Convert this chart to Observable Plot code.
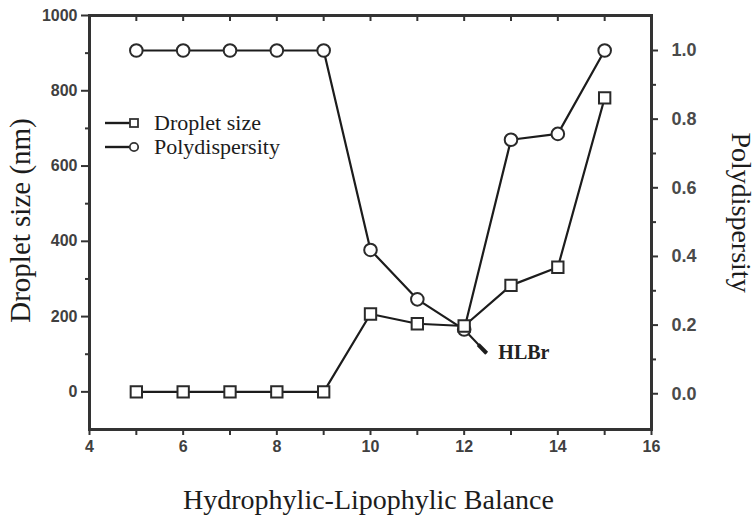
<!DOCTYPE html>
<html>
<head>
<meta charset="utf-8">
<script src="https://cdn.jsdelivr.net/npm/d3@7"></script>
<script src="https://cdn.jsdelivr.net/npm/@observablehq/plot@0.6"></script>
<style>
  html, body { margin: 0; padding: 0; background: #fff; }
</style>
</head>
<body>
<div id="chart"></div>
<script>
// ---- data ----
const hlb = [5, 6, 7, 8, 9, 10, 11, 12, 13, 14, 15];
const dropletSize = [0, 0, 0, 0, 0, 207, 181, 175, 283, 331, 781];
const polydispersity = [1.0, 1.0, 1.0, 1.0, 1.0, 0.419, 0.275, 0.187, 0.740, 0.757, 1.0];
const xTicks = [4, 5, 6, 7, 8, 9, 10, 11, 12, 13, 14, 15, 16];
const leftMajorTicks = [0, 200, 400, 600, 800, 1000];
const leftMinorTicks = [100, 300, 500, 700, 900];
const rightMajorTicks = [0.0, 0.2, 0.4, 0.6, 0.8, 1.0];
const rightMinorTicks = [0.1, 0.3, 0.5, 0.7, 0.9];
const legendLabels = ["Droplet size", "Polydispersity"];
const legendSymbols = ["square", "circle"];
const annotationText = "HLBr";
const annotationPoint = {x: 12, value: 0.187};
const xTitle = "Hydrophylic-Lipophylic Balance";
const yLeftTitle = "Droplet size (nm)";
const yRightTitle = "Polydispersity";

// right axis (polydispersity) mapped onto the left scale
const toLeft = p => -5 + 912 * p;

const dropRows = hlb.map((x, i) => ({x, y: dropletSize[i]}));
const polyRows = hlb.map((x, i) => ({x, y: toLeft(polydispersity[i])}));

const M = {left: 89, right: 105, top: 15, bottom: 92};
const ink = "#1c1c1c";
const tickInk = "#404040";
const serif = "'Liberation Serif', 'Times New Roman', serif";
const sans = "'Liberation Sans', Arial, sans-serif";

function legendMark() {
  const g = d3.create("svg:g");
  legendLabels.forEach((label, i) => {
    const cy = M.top + 108 + i * 24;
    g.append("line")
      .attr("x1", M.left + 16).attr("x2", M.left + 41)
      .attr("y1", cy).attr("y2", cy)
      .attr("stroke", ink).attr("stroke-width", 2.4);
    if (legendSymbols[i] === "square") {
      g.append("rect")
        .attr("x", M.left + 41).attr("y", cy - 4)
        .attr("width", 8).attr("height", 8)
        .attr("fill", "white").attr("stroke", "#333").attr("stroke-width", 1.8);
    } else {
      g.append("circle")
        .attr("cx", M.left + 45).attr("cy", cy).attr("r", 4.2)
        .attr("fill", "white").attr("stroke", "#333").attr("stroke-width", 1.8);
    }
    g.append("text")
      .attr("x", M.left + 65).attr("y", cy)
      .attr("dy", "0.33em")
      .attr("text-anchor", "start")
      .attr("font-family", serif)
      .attr("font-size", 22)
      .attr("fill", ink)
      .text(label);
  });
  return g.node();
}

const chart = Plot.plot({
  width: 756,
  height: 521,
  marginLeft: M.left,
  marginRight: M.right,
  marginTop: M.top,
  marginBottom: M.bottom,
  style: {background: "white", fontFamily: sans},
  x: {domain: [4, 16]},
  y: {domain: [-100, 1000]},
  marks: [
    // left axis
    Plot.axisY({ticks: leftMajorTicks, tickSize: 8, tickPadding: 4, label: null,
      tickFormat: d3.format("d"),
      fontSize: 16, fontWeight: "bold", fill: tickInk, stroke: "#333", strokeWidth: 2}),
    Plot.axisY({ticks: leftMinorTicks, tickSize: 4, tickFormat: () => "", label: null,
      stroke: "#333", strokeWidth: 2}),
    // right axis
    Plot.axisY({anchor: "right", ticks: rightMajorTicks.map(toLeft), tickSize: 6, tickPadding: 14,
      tickFormat: (d, i) => rightMajorTicks[i].toFixed(1), label: null,
      fontSize: 18, fontWeight: "bold", fill: "#4a4a4a", stroke: "#333", strokeWidth: 2}),
    Plot.axisY({anchor: "right", ticks: rightMinorTicks.map(toLeft), tickSize: 4,
      tickFormat: () => "", label: null, stroke: "#333", strokeWidth: 2}),
    // bottom axis
    Plot.axisX({ticks: xTicks, tickSize: 6, tickPadding: 5,
      tickFormat: d => d % 2 === 0 ? d : "", label: null,
      fontSize: 16, fontWeight: "bold", fill: tickInk, stroke: "#333", strokeWidth: 2}),
    // top inner ticks
    Plot.axisX({anchor: "top", ticks: xTicks.slice(1, -1), tickSize: -5, tickFormat: () => "",
      label: null, stroke: "#333", strokeWidth: 2}),
    Plot.frame({stroke: "#333", strokeWidth: 3}),
    // series lines
    Plot.line(polyRows, {x: "x", y: "y", stroke: ink, strokeWidth: 2.2}),
    Plot.line(dropRows, {x: "x", y: "y", stroke: ink, strokeWidth: 2.2}),
    // annotation arrow
    Plot.link([annotationPoint], {
      x1: d => d.x, y1: d => toLeft(d.value),
      x2: d => d.x + 0.48, y2: d => toLeft(d.value) - 63,
      stroke: ink, strokeWidth: 2}),
    Plot.link([annotationPoint], {
      x1: d => d.x + 0.3, y1: d => toLeft(d.value) - 40,
      x2: d => d.x + 0.48, y2: d => toLeft(d.value) - 63,
      stroke: ink, strokeWidth: 4}),
    Plot.text([annotationPoint], {
      x: d => d.x + 0.73, y: d => toLeft(d.value) - 62, text: () => annotationText,
      textAnchor: "start", fontFamily: serif, fontWeight: "bold", fontSize: 20, fill: "#222"}),
    // markers
    Plot.dot(polyRows, {x: "x", y: "y", r: 6.3, symbol: "circle", fill: "white", stroke: "#2a2a2a", strokeWidth: 2}),
    Plot.dot(dropRows, {x: "x", y: "y", r: 6.4, symbol: "square", fill: "white", stroke: "#2a2a2a", strokeWidth: 2}),
    // legend
    legendMark,
    // titles
    Plot.text([yLeftTitle], {frameAnchor: "left", dx: -69, dy: -2, rotate: -90, text: d => d,
      fontFamily: serif, fontSize: 29, fill: ink, textAnchor: "middle"}),
    Plot.text([yRightTitle], {frameAnchor: "right", dx: 89, dy: -10, rotate: 90, text: d => d,
      fontFamily: serif, fontSize: 28, fill: ink, textAnchor: "middle"}),
    Plot.text([xTitle], {frameAnchor: "bottom", dx: -2, dy: 79, text: d => d,
      fontFamily: serif, fontSize: 28, fill: ink, textAnchor: "middle"})
  ]
});

document.getElementById("chart").appendChild(chart);
</script>
</body>
</html>
